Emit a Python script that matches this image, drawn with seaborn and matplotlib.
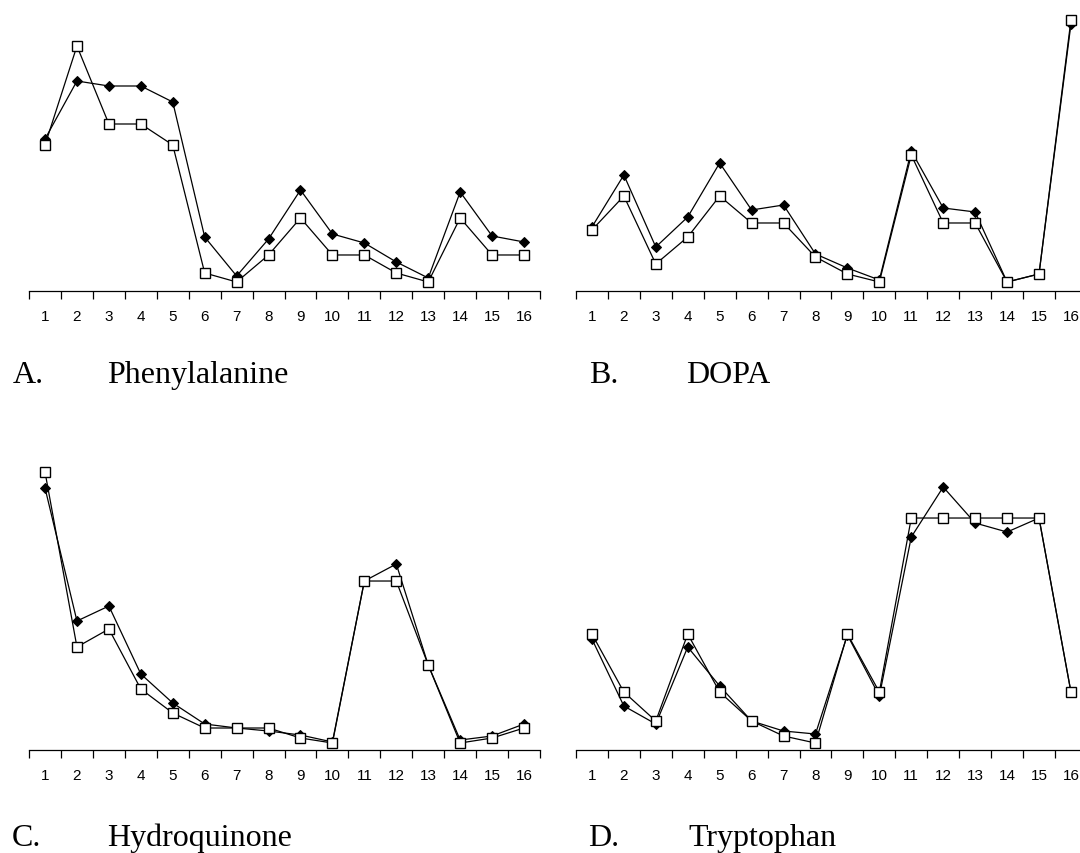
import numpy as np
import pandas as pd
import matplotlib.pyplot as plt
import seaborn as sns

# Sample numbers 1-16 on the x axis
samples = list(range(1, 17))

# Values (arbitrary units, baseline = 0)
phe_filled = [152, 210, 205, 205, 189, 54, 15, 52, 101, 57, 48, 29, 13, 99, 55, 49]
phe_open = [146, 245, 167, 167, 146, 18, 9, 36, 73, 36, 36, 18, 9, 73, 36, 36]

dopa_filled = [64, 116, 44, 74, 128, 81, 86, 37, 23, 11, 140, 83, 79, 9, 17, 267]
dopa_open = [61, 95, 27, 54, 95, 68, 68, 34, 17, 9, 136, 68, 68, 9, 17, 271]

hq_filled = [262, 129, 144, 76, 47, 26, 22, 19, 15, 8, 169, 186, 85, 10, 14, 26]
hq_open = [278, 103, 121, 61, 37, 22, 22, 22, 12, 7, 169, 169, 85, 7, 12, 22]

trp_filled = [111, 44, 26, 103, 64, 29, 19, 16, 115, 54, 213, 263, 227, 218, 232, 58]
trp_open = [116, 58, 29, 116, 58, 29, 14, 7, 116, 58, 232, 232, 232, 232, 232, 58]

panels = [
    ('A.', 'Phenylalanine', phe_filled, phe_open),
    ('B.', 'DOPA', dopa_filled, dopa_open),
    ('C.', 'Hydroquinone', hq_filled, hq_open),
    ('D.', 'Tryptophan', trp_filled, trp_open),
]

sns.set_theme(style='white')
plt.rcParams['font.family'] = ['Liberation Sans', 'DejaVu Sans']

fig = plt.figure(figsize=(10.8, 8.54), dpi=100)

# axes boxes in figure fractions: [left, bottom, width, height]
boxes = [
    [0.0269, 0.6581, 0.4731, 0.3337],
    [0.5333, 0.6581, 0.4731, 0.3337],
    [0.0269, 0.1206, 0.4731, 0.3337],
    [0.5333, 0.1206, 0.4731, 0.3337],
]
# x of the letter, x of the name, baseline y (figure fractions)
label_pos = [
    (0.0118, 0.0995, 0.5515),
    (0.5454, 0.6352, 0.5515),
    (0.0111, 0.0995, 0.0094),
    (0.5444, 0.6370, 0.0094),
]

for (letter, name, filled, opened), box, (lx, nx, ly) in zip(panels, boxes, label_pos):
    ax = fig.add_axes(box)
    df = pd.DataFrame({'sample': samples, 'filled': filled, 'open': opened})

    sns.lineplot(x='sample', y='filled', data=df, ax=ax, color='black',
                 linewidth=0.9, marker='D', markersize=5.2,
                 markerfacecolor='black', markeredgecolor='black')
    sns.lineplot(x='sample', y='open', data=df, ax=ax, color='black',
                 linewidth=0.9, marker='s', markersize=6.6,
                 markerfacecolor='white', markeredgecolor='black',
                 markeredgewidth=1.0)

    ax.set_xlim(0.5, 16.5)
    ax.set_ylim(0, 285)
    ax.set_xlabel('')
    ax.set_ylabel('')
    ax.set_yticks([])

    # boundary ticks without labels, sample numbers centred between them
    ax.set_xticks(np.arange(0.5, 17, 1))
    ax.set_xticklabels([])
    ax.set_xticks(samples, minor=True)
    ax.set_xticklabels([str(s) for s in samples], minor=True)
    ax.tick_params(axis='x', which='major', direction='out', length=6,
                   width=0.9, color='black', bottom=True)
    ax.tick_params(axis='x', which='minor', length=0, pad=13, labelsize=11,
                   labelcolor='black', bottom=True)

    for side in ['top', 'right', 'left']:
        ax.spines[side].set_visible(False)
    ax.spines['bottom'].set_color('black')
    ax.spines['bottom'].set_linewidth(0.9)
    ax.patch.set_alpha(0)

    fig.text(lx, ly, letter, family=['Liberation Serif', 'DejaVu Serif'],
             fontsize=23, va='baseline', ha='left', color='black')
    fig.text(nx, ly, name, family=['Liberation Serif', 'DejaVu Serif'],
             fontsize=23, va='baseline', ha='left', color='black')

fig.savefig('out.png', dpi=100)
